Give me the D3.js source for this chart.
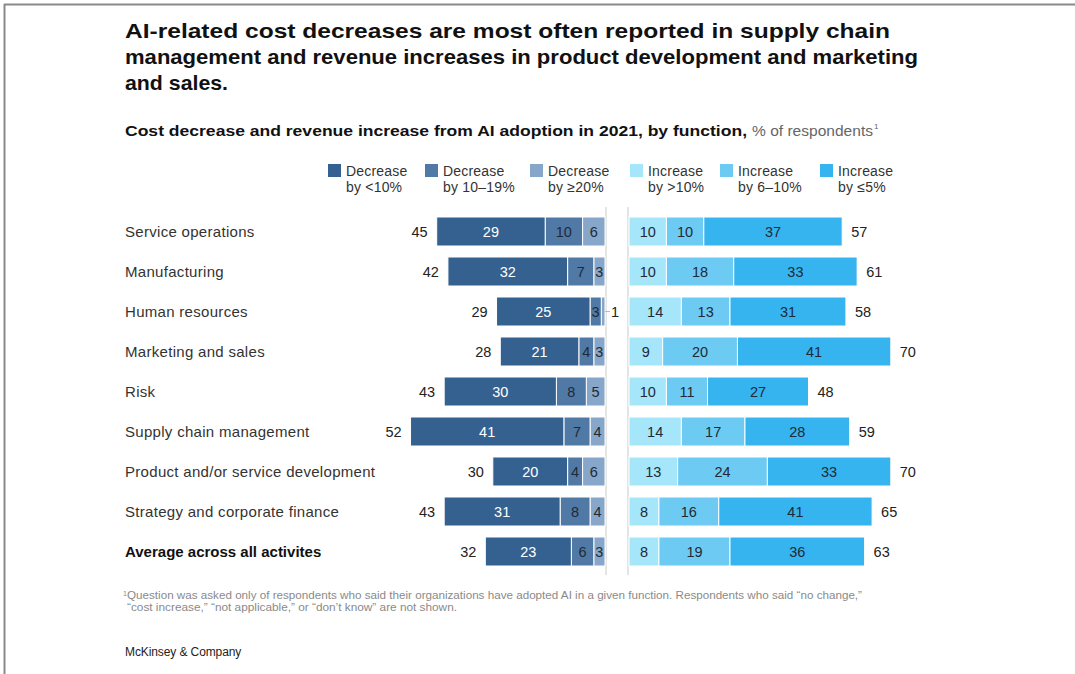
<!DOCTYPE html>
<html>
<head>
<meta charset="utf-8">
<script src="https://cdn.jsdelivr.net/npm/d3@7"></script>
<style>
  html, body { margin: 0; padding: 0; background: #fff; }
  svg { display: block; font-family: "Liberation Sans", Arial, sans-serif; }
</style>
</head>
<body>
<svg id="chart" width="1075" height="674"></svg>
<script>
// Functions, top to bottom
const categories = [
  "Service operations",
  "Manufacturing",
  "Human resources",
  "Marketing and sales",
  "Risk",
  "Supply chain management",
  "Product and/or service development",
  "Strategy and corporate finance",
  "Average across all activites"
];

// Cost decrease, % of respondents
const decreaseLt10 = [29, 32, 25, 21, 30, 41, 20, 31, 23];
const decrease10to19 = [10, 7, 3, 4, 8, 7, 4, 8, 6];
const decreaseGe20 = [6, 3, 1, 3, 5, 4, 6, 4, 3];
const decreaseTotal = [45, 42, 29, 28, 43, 52, 30, 43, 32];

// Revenue increase, % of respondents
const increaseGt10 = [10, 10, 14, 9, 10, 14, 13, 8, 8];
const increase6to10 = [10, 18, 13, 20, 11, 17, 24, 16, 19];
const increaseLe5 = [37, 33, 31, 41, 27, 28, 33, 41, 36];
const increaseTotal = [57, 61, 58, 70, 48, 59, 70, 65, 63];

const legendLabels = [
  ["Decrease", "by <10%"],
  ["Decrease", "by 10–19%"],
  ["Decrease", "by ≥20%"],
  ["Increase", "by >10%"],
  ["Increase", "by 6–10%"],
  ["Increase", "by ≤5%"]
];

const titleLines = [
  "AI-related cost decreases are most often reported in supply chain",
  "management and revenue increases in product development and marketing",
  "and sales."
];

const colors = ["#34618f", "#5079a6", "#86a6ca", "#a6e6fb", "#6dcbf3", "#36b4f0"];
const textColors = ["#ffffff", "#1f2a36", "#1f2a36", "#1f2a36", "#1f2a36", "#1f2a36"];

const svg = d3.select("#chart");

// frame
svg.append("line").attr("x1", 4.5).attr("x2", 4.5).attr("y1", 4).attr("y2", 674)
  .attr("stroke", "#8a8a8a").attr("stroke-width", 2);
svg.append("line").attr("x1", 4).attr("x2", 1075).attr("y1", 4.5).attr("y2", 4.5)
  .attr("stroke", "#8a8a8a").attr("stroke-width", 2);

// headline, each line set to its measure
const titleWidths = [765, 793, 103];
titleLines.forEach((t, i) => {
  svg.append("text").attr("x", 125).attr("y", 38 + i * 26)
    .attr("font-size", 20.5).attr("font-weight", "bold").attr("fill", "#111")
    .attr("textLength", titleWidths[i]).attr("lengthAdjust", "spacingAndGlyphs")
    .text(t);
});

// subtitle
svg.append("text").attr("x", 125).attr("y", 136).attr("font-size", 15.5)
  .attr("font-weight", "bold").attr("fill", "#111")
  .attr("textLength", 622).attr("lengthAdjust", "spacingAndGlyphs")
  .text("Cost decrease and revenue increase from AI adoption in 2021, by function,");
svg.append("text").attr("x", 752).attr("y", 136).attr("font-size", 15.5).attr("fill", "#666")
  .attr("textLength", 121).attr("lengthAdjust", "spacingAndGlyphs")
  .text("% of respondents");
svg.append("text").attr("x", 874).attr("y", 129).attr("font-size", 8).attr("fill", "#666").text("1");

// legend
const legendX = [328, 425, 530, 630, 720, 820];
const legend = svg.append("g").selectAll("g").data(legendLabels).join("g")
  .attr("transform", (d, i) => `translate(${legendX[i]},164)`);
legend.append("rect").attr("width", 13).attr("height", 13).attr("fill", (d, i) => colors[i]);
legend.append("text").attr("x", 18).attr("y", 11.5).attr("font-size", 14).attr("letter-spacing", 0.2)
  .attr("fill", "#333").text(d => d[0]);
legend.append("text").attr("x", 18).attr("y", 27.5).attr("font-size", 14).attr("letter-spacing", 0.2)
  .attr("fill", "#333").text(d => d[1]);

// scales
const unit = 3.74;
const decEnd = 605, incStart = 629;
const xDec = d3.scaleLinear().domain([0, 60]).range([decEnd, decEnd - 60 * unit]);
const xInc = d3.scaleLinear().domain([0, 75]).range([incStart, incStart + 75 * unit]);
const y = d3.scaleBand().domain(categories).range([211.5, 571.5])
  .paddingInner(0.275).paddingOuter(0.1375);

// centre dividers
[decEnd + 1, incStart - 1].forEach(x => {
  svg.append("line").attr("x1", x).attr("x2", x).attr("y1", 207).attr("y2", 575)
    .attr("stroke", "#d4d4d4").attr("stroke-width", 1.2);
});

// category labels (the average row is set in bold)
const lastIdx = categories.length - 1;
svg.append("g").selectAll("text").data(categories).join("text")
  .attr("x", 125).attr("y", d => y(d) + y.bandwidth() / 2)
  .attr("dy", "0.35em").attr("font-size", 15)
  .attr("letter-spacing", (d, i) => i === lastIdx ? 0 : 0.3)
  .attr("font-weight", (d, i) => i === lastIdx ? "bold" : "normal")
  .attr("fill", (d, i) => i === lastIdx ? "#111" : "#333")
  .text(d => d);

// build segments
const segments = [];
categories.forEach((c, i) => {
  // decrease side: innermost segment is ≥20%, then 10–19%, then <10%
  const dec = [[2, decreaseGe20[i]], [1, decrease10to19[i]], [0, decreaseLt10[i]]];
  let acc = 0;
  dec.forEach(([k, v]) => {
    segments.push({ cat: c, k, v, x0: xDec(acc + v), x1: xDec(acc) });
    acc += v;
  });
  const inc = [[3, increaseGt10[i]], [4, increase6to10[i]], [5, increaseLe5[i]]];
  acc = 0;
  inc.forEach(([k, v]) => {
    segments.push({ cat: c, k, v, x0: xInc(acc), x1: xInc(acc + v) });
    acc += v;
  });
});

const barG = svg.append("g");
barG.selectAll("rect").data(segments).join("rect")
  .attr("x", d => d.x0).attr("y", d => y(d.cat))
  .attr("width", d => d.x1 - d.x0).attr("height", y.bandwidth())
  .attr("fill", d => colors[d.k]).attr("stroke", "#fff").attr("stroke-width", 1);

// segment value labels (narrow segments get an outside label)
const inside = segments.filter(d => d.x1 - d.x0 >= 8);
const outside = segments.filter(d => d.x1 - d.x0 < 8);
barG.selectAll("text.in").data(inside).join("text").attr("class", "in")
  .attr("x", d => (d.x0 + d.x1) / 2).attr("y", d => y(d.cat) + y.bandwidth() / 2)
  .attr("dy", "0.35em").attr("text-anchor", "middle").attr("font-size", 14.5)
  .attr("fill", d => textColors[d.k]).text(d => d.v);
outside.forEach(d => {
  const cy = y(d.cat) + y.bandwidth() / 2;
  barG.append("line").attr("x1", d.x1).attr("x2", d.x1 + 5).attr("y1", cy).attr("y2", cy)
    .attr("stroke", "#bbb").attr("stroke-width", 1);
  barG.append("text").attr("x", d.x1 + 6).attr("y", cy).attr("dy", "0.35em")
    .attr("font-size", 14.5).attr("fill", "#222").text(d.v);
});

// totals
svg.append("g").selectAll("text").data(categories).join("text")
  .attr("x", (d, i) => xDec(decreaseTotal[i]) - 9).attr("y", d => y(d) + y.bandwidth() / 2)
  .attr("dy", "0.35em").attr("text-anchor", "end").attr("font-size", 14.5).attr("fill", "#222")
  .text((d, i) => decreaseTotal[i]);
svg.append("g").selectAll("text").data(categories).join("text")
  .attr("x", (d, i) => xInc(increaseTotal[i]) + 9).attr("y", d => y(d) + y.bandwidth() / 2)
  .attr("dy", "0.35em").attr("font-size", 14.5).attr("fill", "#222")
  .text((d, i) => increaseTotal[i]);

// footnote
svg.append("text").attr("x", 123).attr("y", 596).attr("font-size", 7).attr("fill", "#8a8a8a").text("1");
svg.append("text").attr("x", 127).attr("y", 599).attr("font-size", 11).attr("fill", "#8a8a8a")
  .attr("textLength", 735).attr("lengthAdjust", "spacingAndGlyphs")
  .text("Question was asked only of respondents who said their organizations have adopted AI in a given function. Respondents who said “no change,”");
svg.append("text").attr("x", 127).attr("y", 611).attr("font-size", 11).attr("fill", "#8a8a8a")
  .attr("textLength", 330).attr("lengthAdjust", "spacingAndGlyphs")
  .text("“cost increase,” “not applicable,” or “don’t know” are not shown.");

svg.append("text").attr("x", 125).attr("y", 656).attr("font-size", 12)
  .attr("fill", "#222").attr("letter-spacing", -0.1).text("McKinsey & Company");
</script>
</body>
</html>
